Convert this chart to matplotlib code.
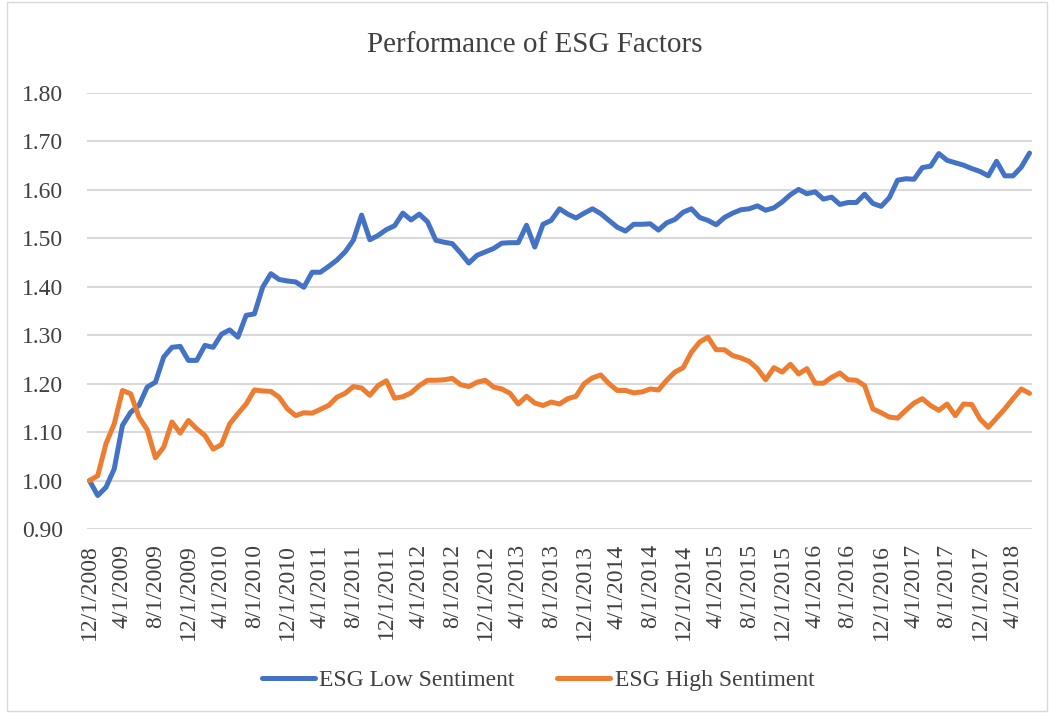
import matplotlib
matplotlib.use("Agg")
import matplotlib.pyplot as plt
import pandas as pd

# Monthly dates, 12/1/2008 to 6/1/2018
dates = pd.date_range("2008-12-01", periods=115, freq="MS")
date_labels = [f"{d.month}/{d.day}/{d.year}" for d in dates]

esg_low = [
    1.000, 0.969, 0.986, 1.024, 1.114, 1.141, 1.155, 1.193, 1.203, 1.255,
    1.275, 1.277, 1.248, 1.248, 1.279, 1.275, 1.302, 1.311, 1.296, 1.341,
    1.344, 1.399, 1.427, 1.415, 1.412, 1.410, 1.399, 1.430, 1.430, 1.442,
    1.455, 1.472, 1.496, 1.548, 1.497, 1.506, 1.518, 1.526, 1.552, 1.538,
    1.550, 1.534, 1.496, 1.492, 1.489, 1.470, 1.449, 1.465, 1.472, 1.479,
    1.490, 1.491, 1.491, 1.527, 1.482, 1.529, 1.537, 1.561, 1.550, 1.542,
    1.552, 1.561, 1.551, 1.537, 1.523, 1.515, 1.529, 1.529, 1.530, 1.517,
    1.532, 1.539, 1.554, 1.561, 1.543, 1.537, 1.528, 1.543, 1.552, 1.559,
    1.561, 1.567, 1.558, 1.563, 1.575, 1.590, 1.601, 1.592, 1.596, 1.581,
    1.585, 1.570, 1.574, 1.574, 1.591, 1.572, 1.566, 1.584, 1.620, 1.623,
    1.622, 1.646, 1.649, 1.675, 1.661, 1.656, 1.651, 1.644, 1.638, 1.629,
    1.659, 1.629, 1.629, 1.647, 1.676,
]

esg_high = [
    1.000, 1.010, 1.076, 1.117, 1.186, 1.179, 1.131, 1.105, 1.047, 1.069,
    1.121, 1.098, 1.124, 1.107, 1.093, 1.065, 1.074, 1.117, 1.138, 1.158,
    1.187, 1.185, 1.184, 1.172, 1.148, 1.134, 1.140, 1.139, 1.147, 1.155,
    1.172, 1.180, 1.194, 1.191, 1.176, 1.196, 1.206, 1.170, 1.173, 1.181,
    1.196, 1.207, 1.207, 1.208, 1.211, 1.198, 1.194, 1.203, 1.207, 1.193,
    1.189, 1.180, 1.158, 1.174, 1.160, 1.155, 1.162, 1.158, 1.169, 1.174,
    1.200, 1.212, 1.218, 1.200, 1.186, 1.186, 1.181, 1.183, 1.189, 1.187,
    1.207, 1.224, 1.233, 1.265, 1.286, 1.296, 1.270, 1.270, 1.258, 1.253,
    1.246, 1.231, 1.208, 1.233, 1.224, 1.240, 1.220, 1.231, 1.201, 1.201,
    1.213, 1.222, 1.208, 1.207, 1.196, 1.148, 1.140, 1.131, 1.129, 1.145,
    1.160, 1.169, 1.155, 1.145, 1.158, 1.134, 1.158, 1.157, 1.127, 1.110,
    1.129, 1.148, 1.169, 1.189, 1.180,
]

y_ticks = [0.9, 1.0, 1.1, 1.2, 1.3, 1.4, 1.5, 1.6, 1.7, 1.8]

plt.rcParams["font.family"] = ["Liberation Serif", "DejaVu Serif"]
txt = "#404040"

fig = plt.figure(figsize=(10.49, 7.13), dpi=100)
ax = fig.add_axes([87 / 1049, 1 - 529 / 713, (1032 - 87) / 1049, (529 - 93) / 713])

x = list(range(len(dates)))
ax.plot(x, esg_low, color="#4472C4", lw=3.6, label="ESG Low Sentiment",
        solid_joinstyle="round", solid_capstyle="round")
ax.plot(x, esg_high, color="#ED7D31", lw=3.6, label="ESG High Sentiment",
        solid_joinstyle="round", solid_capstyle="round")

ax.set_ylim(0.9, 1.8)
ax.set_yticks(y_ticks)
ax.set_yticklabels([f"{v:.2f}" for v in y_ticks], fontsize=17, color=txt)
ax.set_xlim(-0.3, len(dates) - 0.7)
ax.set_xticks(x[::4])
ax.set_xticklabels(date_labels[::4], rotation=90, fontsize=17, color=txt)
ax.tick_params(axis="y", length=0, pad=17)
ax.tick_params(axis="x", length=0, pad=11)
ax.grid(axis="y", color="#d9d9d9", lw=1.5)
ax.set_axisbelow(True)
for s in ax.spines.values():
    s.set_visible(False)

fig.text(0.51, 0.937, "Performance of ESG Factors", ha="center", va="center",
         fontsize=21, color=txt)

fig.legend(loc="center", bbox_to_anchor=(0.513, 0.046), ncol=2, frameon=False,
           fontsize=17, handlelength=2.25, handletextpad=0.2, columnspacing=1.8,
           labelcolor=txt)

# chart area border
fig.patches.append(plt.Rectangle((7 / 1049, 2 / 713), 1040 / 1049, 709 / 713,
                                 transform=fig.transFigure, fill=False,
                                 edgecolor="#d9d9d9", lw=1))

fig.savefig("out.png", dpi=100)
